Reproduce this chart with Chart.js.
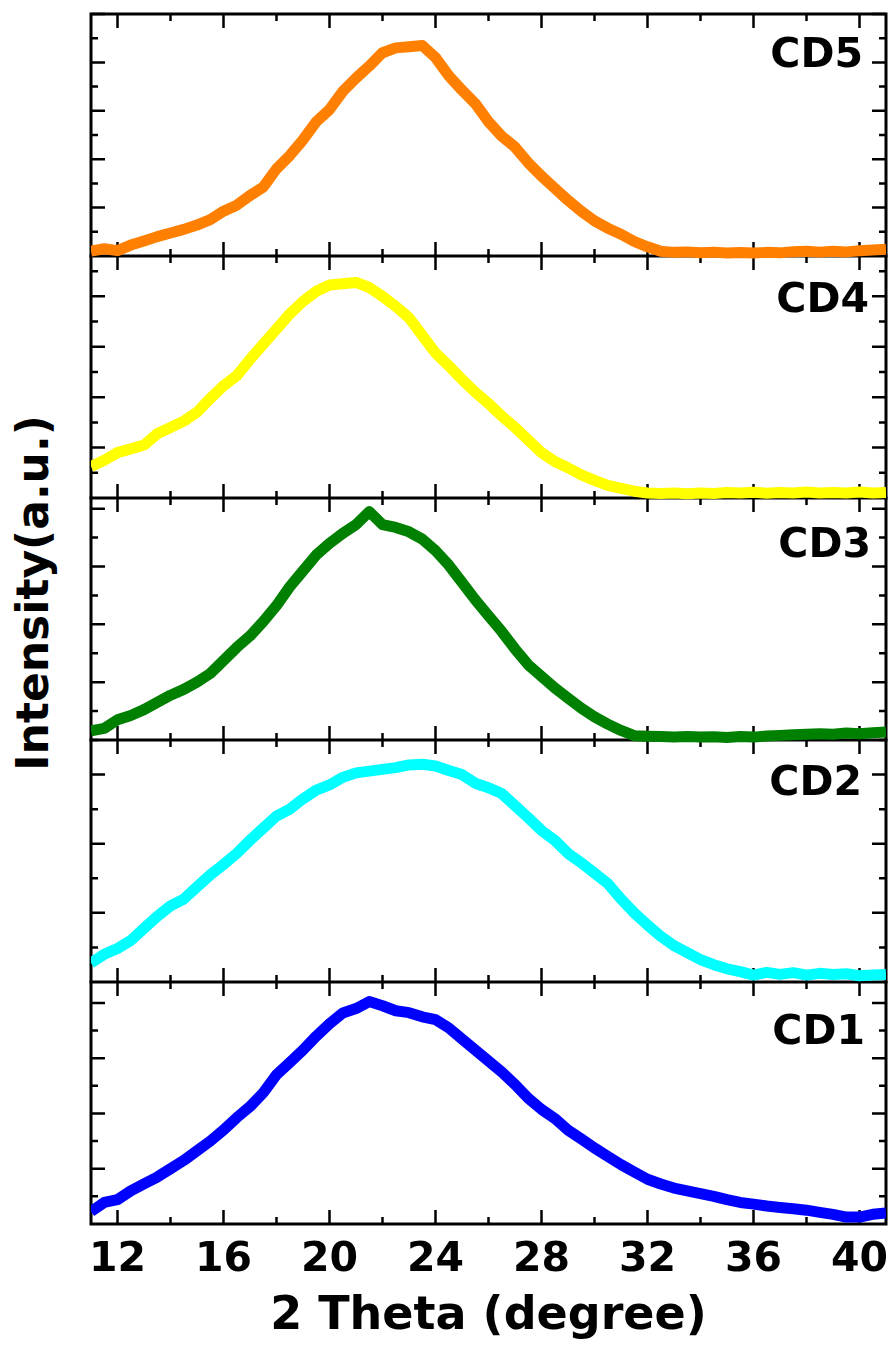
<!DOCTYPE html>
<html><head><meta charset="utf-8">
<script src="https://cdn.jsdelivr.net/npm/chart.js@4.4.1/dist/chart.umd.min.js"></script>
<style>
html,body{margin:0;padding:0;background:#fff;width:894px;height:1345px;overflow:hidden;position:relative;font-family:"DejaVu Sans",sans-serif;}
.panel{position:absolute;}
.lbl{position:absolute;font-family:"DejaVu Sans";font-weight:bold;font-size:41px;line-height:41px;color:#000;text-align:right;white-space:nowrap;z-index:10;}
#ytitle{position:absolute;left:-167px;top:568px;width:400px;height:50px;line-height:50px;text-align:center;font-family:"DejaVu Sans";font-weight:bold;font-size:44px;color:#000;transform:rotate(-90deg);transform-origin:50% 50%;white-space:nowrap;z-index:10;}
</style></head><body>
<div id="ytitle">Intensity(a.u.)</div>
<script>
// ---- data ----
const theta = [11,11.5,12,12.5,13,13.5,14,14.5,15,15.5,16,16.5,17,17.5,18,18.5,19,19.5,20,20.5,21,21.5,22,22.5,23,23.5,24,24.5,25,25.5,26,26.5,27,27.5,28,28.5,29,29.5,30,30.5,31,31.5,32,32.5,33,33.5,34,34.5,35,35.5,36,36.5,37,37.5,38,38.5,39,39.5,40,40.5,41];
const cd5 = [0.2,0.3,0.22,0.45,0.62,0.8,0.95,1.1,1.28,1.5,1.85,2.1,2.5,2.85,3.6,4.15,4.8,5.55,6.05,6.8,7.35,7.85,8.4,8.6,8.65,8.7,8.2,7.45,6.85,6.3,5.55,4.95,4.5,3.85,3.3,2.8,2.3,1.85,1.45,1.15,0.9,0.6,0.38,0.2,0.15,0.17,0.13,0.16,0.12,0.14,0.12,0.15,0.13,0.18,0.2,0.16,0.2,0.17,0.22,0.25,0.28];
const cd4 = [1.25,1.5,1.8,1.95,2.1,2.55,2.8,3.05,3.4,3.95,4.45,4.85,5.5,6.1,6.7,7.3,7.8,8.2,8.45,8.5,8.55,8.35,8.0,7.6,7.15,6.45,5.75,5.25,4.7,4.2,3.75,3.25,2.8,2.3,1.8,1.45,1.2,0.92,0.7,0.5,0.38,0.27,0.2,0.18,0.2,0.17,0.2,0.18,0.22,0.2,0.23,0.19,0.22,0.2,0.24,0.2,0.22,0.2,0.24,0.2,0.22];
const cd3 = [0.32,0.4,0.7,0.85,1.05,1.3,1.55,1.75,2.0,2.3,2.75,3.2,3.6,4.1,4.65,5.3,5.85,6.4,6.8,7.15,7.45,7.9,7.45,7.35,7.2,6.95,6.55,6.05,5.45,4.85,4.3,3.75,3.15,2.6,2.2,1.8,1.45,1.1,0.8,0.55,0.33,0.15,0.13,0.12,0.1,0.12,0.1,0.11,0.09,0.12,0.1,0.14,0.16,0.18,0.2,0.22,0.2,0.24,0.22,0.25,0.28];
const cd2 = [0.55,0.8,0.97,1.2,1.55,1.9,2.2,2.4,2.75,3.1,3.4,3.72,4.1,4.45,4.8,5.0,5.3,5.55,5.7,5.92,6.05,6.1,6.15,6.2,6.28,6.3,6.25,6.12,6.0,5.75,5.62,5.45,5.1,4.75,4.38,4.1,3.72,3.45,3.15,2.85,2.4,2.0,1.65,1.32,1.05,0.85,0.65,0.5,0.38,0.3,0.2,0.28,0.22,0.27,0.2,0.25,0.22,0.24,0.18,0.2,0.22];
const cd1 = [0.45,0.78,0.88,1.2,1.45,1.7,2.0,2.3,2.65,3.0,3.4,3.85,4.25,4.75,5.4,5.85,6.3,6.8,7.25,7.64,7.8,8.05,7.9,7.72,7.65,7.5,7.4,7.1,6.7,6.3,5.9,5.5,5.05,4.55,4.15,3.82,3.4,3.08,2.75,2.45,2.15,1.88,1.62,1.45,1.3,1.2,1.1,1.0,0.88,0.78,0.72,0.65,0.6,0.55,0.5,0.42,0.35,0.25,0.25,0.35,0.4];

const xTickValues = [12,16,20,24,28,32,36,40];
const xTickLabels = ['12','16','20','24','28','32','36','40'];
const xMinorTicks = [14,18,22,26,30,34,38];
const panelNames = ['CD5','CD4','CD3','CD2','CD1'];
const panelSeries = [cd5, cd4, cd3, cd2, cd1];
const panelColors = ['#FF8000','#FFFF00','#008000','#00FFFF','#0000FF'];
const panelYMax = [10, 9.6, 8.37, 7.0, 8.76];

// ---- layout ----
const PLOT_LEFT = 91, PLOT_W = 795, PANEL_H = 242, P = 8;
const panelTops = [14, 256, 498, 740, 982];
const labelBox = [ // [top, right edge]
  [33, 863], [278, 869], [523, 871], [761, 862], [1010, 865]
];

const framePlugin = {
  id: 'frame',
  beforeDatasetsDraw(chart, args, opts) {
    const ctx = chart.ctx;
    const {left, right, top, bottom} = chart.chartArea;
    const xs = chart.scales.x, ys = chart.scales.y;
    ctx.save();
    ctx.strokeStyle = '#000';
    ctx.lineWidth = 3;
    ctx.lineCap = 'square';
    ctx.beginPath();
    if (opts.drawTop) { ctx.moveTo(left, top); ctx.lineTo(right, top); }
    ctx.moveTo(left, top); ctx.lineTo(left, bottom); ctx.lineTo(right, bottom); ctx.lineTo(right, top);
    ctx.stroke();
    ctx.lineWidth = 2.5;
    ctx.lineCap = 'butt';
    ctx.beginPath();
    const xt = (v, len) => {
      const x = xs.getPixelForValue(v);
      ctx.moveTo(x, bottom); ctx.lineTo(x, bottom - len);
      ctx.moveTo(x, top); ctx.lineTo(x, top + len);
    };
    xTickValues.forEach(v => xt(v, 14));
    xMinorTicks.forEach(v => xt(v, 7));
    for (let k = 1; k <= Math.floor(ys.max + 0.05); k++) {
      const y = ys.getPixelForValue(k);
      const len = (k % 2 === 0) ? 14 : 7;
      ctx.moveTo(left, y); ctx.lineTo(left + len, y);
      ctx.moveTo(right, y); ctx.lineTo(right - len, y);
    }
    ctx.stroke();
    ctx.restore();
  }
};

for (let i = 4; i >= 0; i--) {
  const isBottom = (i === 4);
  const div = document.createElement('div');
  div.className = 'panel';
  const top = panelTops[i] - P;
  div.style.left = (PLOT_LEFT - P) + 'px';
  div.style.top = top + 'px';
  div.style.width = (PLOT_W + 2 * P) + 'px';
  div.style.height = (isBottom ? (1345 - top) : (PANEL_H + 2 * P)) + 'px';
  div.style.zIndex = String(5 - i);
  const cv = document.createElement('canvas');
  div.appendChild(cv);
  document.body.appendChild(div);

  const lbl = document.createElement('div');
  lbl.className = 'lbl';
  lbl.textContent = panelNames[i];
  lbl.style.top = labelBox[i][0] + 'px';
  lbl.style.right = (894 - labelBox[i][1]) + 'px';
  document.body.appendChild(lbl);

  const xScale = {
    type: 'linear', min: 11, max: 41, display: isBottom,
    grid: {display: false, drawTicks: false},
    border: {display: false}
  };
  if (isBottom) {
    xScale.afterBuildTicks = s => { s.ticks = xTickValues.map(v => ({value: v})); };
    xScale.afterFit = s => { s.height = 121; s.paddingLeft = 0; s.paddingRight = 0; };
    xScale.ticks = {
      color: '#000', padding: 12, maxRotation: 0, minRotation: 0, autoSkip: false,
      font: {family: 'DejaVu Sans', weight: 'bold', size: 41, lineHeight: 1.2},
      callback: (v, idx) => xTickLabels[idx]
    };
    xScale.title = {
      display: true, text: '2 Theta (degree)', color: '#000', padding: 0,
      font: {family: 'DejaVu Sans', weight: 'bold', size: 46, lineHeight: 1.2}
    };
  }

  new Chart(cv, {
    type: 'line',
    data: {
      datasets: [{
        data: theta.map((t, k) => ({x: t, y: panelSeries[i][k]})),
        borderColor: panelColors[i],
        backgroundColor: panelColors[i],
        borderWidth: 11,
        borderJoinStyle: 'round',
        borderCapStyle: 'butt',
        pointRadius: 0,
        tension: 0,
        fill: false,
        clip: {left: 0, right: 0, top: 7, bottom: 7}
      }]
    },
    options: {
      responsive: true,
      maintainAspectRatio: false,
      animation: false,
      devicePixelRatio: 1,
      layout: {padding: {left: P, right: P, top: P, bottom: isBottom ? 0 : P}},
      plugins: {legend: {display: false}, tooltip: {enabled: false}, frame: {drawTop: i === 0}},
      scales: {
        x: xScale,
        y: {type: 'linear', min: 0, max: panelYMax[i], display: false}
      }
    },
    plugins: [framePlugin]
  });
}
</script>
</body></html>
